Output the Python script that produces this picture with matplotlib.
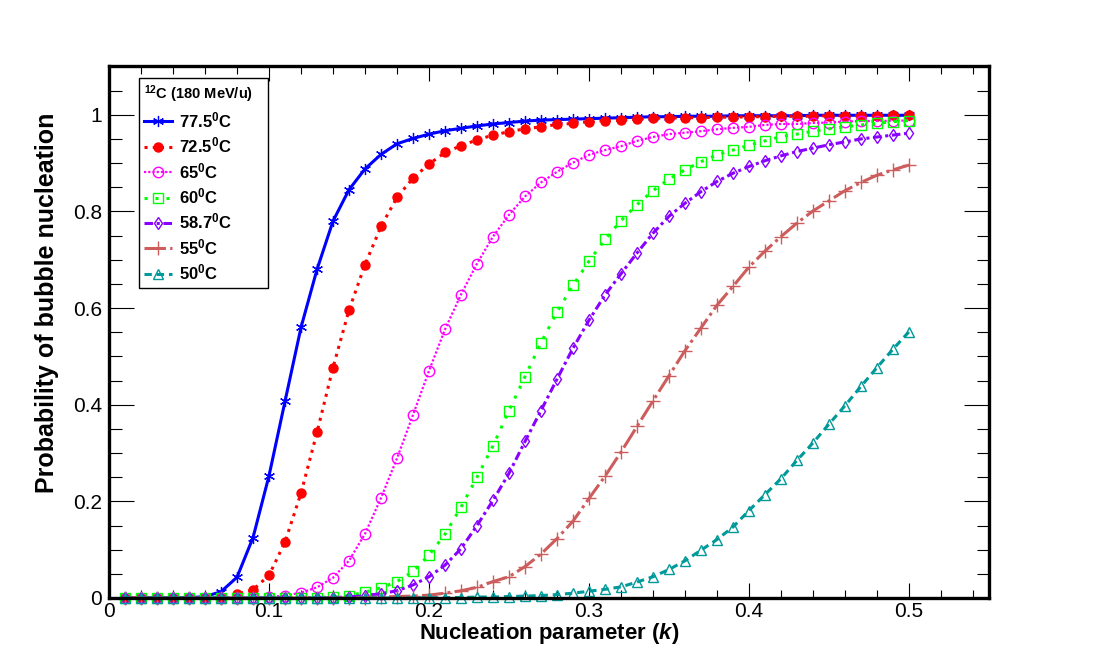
import numpy as np
import matplotlib
matplotlib.use("Agg")
import matplotlib.pyplot as plt
from matplotlib.ticker import MultipleLocator

plt.rcParams['font.family'] = ['Liberation Sans', 'DejaVu Sans']
plt.rcParams['mathtext.fontset'] = 'custom'
plt.rcParams['mathtext.rm'] = 'Liberation Sans'
plt.rcParams['mathtext.bf'] = 'Liberation Sans:bold'
plt.rcParams['mathtext.it'] = 'Liberation Sans:italic:bold'

# ---- data ----
k = [round(0.01 * i, 2) for i in range(1, 51)]

p775 = [0, 0, 0, 0, 0.0005, 0.003, 0.013, 0.043, 0.125, 0.253,
        0.407, 0.560, 0.680, 0.780, 0.845, 0.888, 0.918, 0.940, 0.951, 0.960,
        0.967, 0.972, 0.977, 0.981, 0.984, 0.987, 0.989, 0.990, 0.991, 0.992,
        0.993, 0.994, 0.995, 0.996, 0.996, 0.997, 0.997, 0.997, 0.998, 0.998,
        0.998, 0.998, 0.998, 0.999, 0.999, 0.999, 0.999, 0.999, 0.999, 0.999]

p725 = [0, 0, 0, 0, 0, 0.0005, 0.003, 0.008, 0.017, 0.047,
        0.116, 0.217, 0.343, 0.477, 0.596, 0.690, 0.769, 0.829, 0.869, 0.898,
        0.922, 0.936, 0.948, 0.958, 0.965, 0.971, 0.975, 0.980, 0.982, 0.986,
        0.988, 0.989, 0.991, 0.993, 0.993, 0.994, 0.994, 0.995, 0.995, 0.996,
        0.996, 0.997, 0.997, 0.997, 0.998, 0.998, 0.998, 0.998, 0.999, 0.999]

p65 = [0, 0, 0, 0, 0, 0, 0, 0.0005, 0.001, 0.002,
       0.005, 0.011, 0.022, 0.042, 0.077, 0.133, 0.207, 0.289, 0.379, 0.470,
       0.556, 0.628, 0.692, 0.748, 0.793, 0.831, 0.860, 0.882, 0.901, 0.917,
       0.927, 0.935, 0.946, 0.954, 0.960, 0.963, 0.966, 0.970, 0.973, 0.975,
       0.979, 0.981, 0.981, 0.983, 0.984, 0.986, 0.987, 0.987, 0.988, 0.988]

p60 = [0, 0, 0, 0, 0, 0, 0, 0, 0, 0,
       0, 0.0005, 0.001, 0.002, 0.005, 0.012, 0.021, 0.034, 0.055, 0.089,
       0.132, 0.188, 0.250, 0.315, 0.388, 0.458, 0.528, 0.592, 0.647, 0.697,
       0.742, 0.781, 0.814, 0.843, 0.867, 0.886, 0.903, 0.917, 0.927, 0.937,
       0.946, 0.955, 0.960, 0.966, 0.971, 0.975, 0.979, 0.982, 0.986, 0.988]

p587 = [0, 0, 0, 0, 0, 0, 0, 0, 0, 0,
        0, 0, 0, 0.001, 0.002, 0.005, 0.009, 0.015, 0.027, 0.044,
        0.068, 0.102, 0.150, 0.202, 0.258, 0.324, 0.388, 0.453, 0.517, 0.575,
        0.627, 0.671, 0.714, 0.755, 0.790, 0.817, 0.841, 0.862, 0.879, 0.893,
        0.905, 0.915, 0.924, 0.931, 0.938, 0.944, 0.950, 0.954, 0.958, 0.962]

p55 = [0, 0, 0, 0, 0, 0, 0, 0, 0, 0,
       0, 0, 0, 0, 0.0005, 0.001, 0.002, 0.003, 0.004, 0.006,
       0.010, 0.015, 0.022, 0.034, 0.044, 0.065, 0.091, 0.123, 0.159, 0.206,
       0.252, 0.302, 0.355, 0.408, 0.460, 0.512, 0.559, 0.606, 0.645, 0.685,
       0.718, 0.748, 0.776, 0.801, 0.822, 0.843, 0.860, 0.875, 0.886, 0.896]

p50 = [0, 0, 0, 0, 0, 0, 0, 0, 0, 0,
       0, 0, 0, 0, 0, 0, 0, 0, 0, 0.0005,
       0.001, 0.001, 0.002, 0.002, 0.003, 0.004, 0.005, 0.007, 0.010, 0.014,
       0.018, 0.023, 0.033, 0.044, 0.059, 0.077, 0.099, 0.121, 0.147, 0.181,
       0.214, 0.247, 0.285, 0.321, 0.360, 0.398, 0.438, 0.477, 0.515, 0.551]

labels = [r"77.5$^{\mathbf{0}}$C", r"72.5$^{\mathbf{0}}$C", r"65$^{\mathbf{0}}$C",
          r"60$^{\mathbf{0}}$C", r"58.7$^{\mathbf{0}}$C", r"55$^{\mathbf{0}}$C",
          r"50$^{\mathbf{0}}$C"]
legend_title = r"$^{\mathbf{12}}$C (180 MeV/u)"
xticks = [0, 0.1, 0.2, 0.3, 0.4, 0.5]
xticklabels = ["0", "0.1", "0.2", "0.3", "0.4", "0.5"]
yticks = [0, 0.2, 0.4, 0.6, 0.8, 1.0]
yticklabels = ["0", "0.2", "0.4", "0.6", "0.8", "1"]

series = [p775, p725, p65, p60, p587, p55, p50]

styles = [
    dict(color='#0000ff', lw=2.2, ls='-', marker=(6, 2, 0), ms=8, mew=0.9, mfc='#0000ff'),
    dict(color='#ff0000', lw=2.2, dashes=(1.0, 1.7), marker='o', ms=6.5, mew=1.0, mfc='#ff0000'),
    dict(color='#ff00ff', lw=1.6, dashes=(1.0, 0.9), marker='o', ms=7.5, mew=1.0, mfc='none'),
    dict(color='#00ff00', lw=2.2, dashes=(1.0, 2.6), marker='s', ms=7, mew=1.0, mfc='none'),
    dict(color='#8800ff', lw=2.2, dashes=(2.8, 1.2, 1.0, 1.2), marker='d', ms=6.5, mew=1.0, mfc='none'),
    dict(color='#cd5c5c', lw=2.2, dashes=(7.0, 1.4, 1.0, 1.4), marker='+', ms=10, mew=1.0, mfc='none'),
    dict(color='#009999', lw=2.2, dashes=(2.4, 1.6), marker='^', ms=7.5, mew=1.0, mfc='none'),
]

fig = plt.figure(figsize=(10.99, 6.64), dpi=100)
ax = fig.add_axes([0.0992, 0.0994, 0.8007, 0.8005])

handles = []
for ys, st, lab in zip(series, styles, labels):
    h, = ax.plot(k, ys, label=lab, clip_on=False, **st)
    handles.append(h)

ax.set_xlim(0, 0.55)
ax.set_ylim(0, 1.1)
ax.set_xticks(xticks)
ax.set_xticklabels(xticklabels)
ax.set_yticks(yticks)
ax.set_yticklabels(yticklabels)
ax.xaxis.set_minor_locator(MultipleLocator(0.02))
ax.yaxis.set_minor_locator(MultipleLocator(0.05))

ax.tick_params(axis='x', which='major', direction='in', length=11, width=0.8,
               top=True, bottom=True, labelsize=15, pad=3)
ax.tick_params(axis='x', which='minor', direction='in', length=5.5, width=0.8,
               top=True, bottom=True)
ax.tick_params(axis='y', which='major', direction='in', length=18, width=0.8,
               left=True, right=True, labelsize=15, pad=5)
ax.tick_params(axis='y', which='minor', direction='in', length=9, width=0.8,
               left=True, right=True)
for sp in ax.spines.values():
    sp.set_linewidth(2.4)

fig.text(0.5 * (109 + 989) / 1099, 1 - 633 / 664, r"Nucleation parameter ($k$)",
         ha='center', va='center', fontsize=15.9, fontweight='bold')
fig.text(47 / 1099, 1 - 303 / 664, "Probability of bubble nucleation",
         ha='center', va='center', rotation=90, fontsize=18, fontweight='bold')

leg = ax.legend(handles=handles, title=legend_title, loc='upper left',
                bbox_to_anchor=(0.034, 0.5, 0.1466, 0.478), mode='expand',
                title_fontproperties={'weight': 'bold', 'size': 10.5},
                prop={'weight': 'bold', 'size': 12},
                frameon=True, fancybox=False, framealpha=1, edgecolor='black',
                borderpad=0.3, labelspacing=0.33, handlelength=1.7,
                handletextpad=0.4, borderaxespad=0, numpoints=1,
                alignment='left')
leg.get_frame().set_linewidth(1.0)

fig.savefig("out.png", dpi=100)
